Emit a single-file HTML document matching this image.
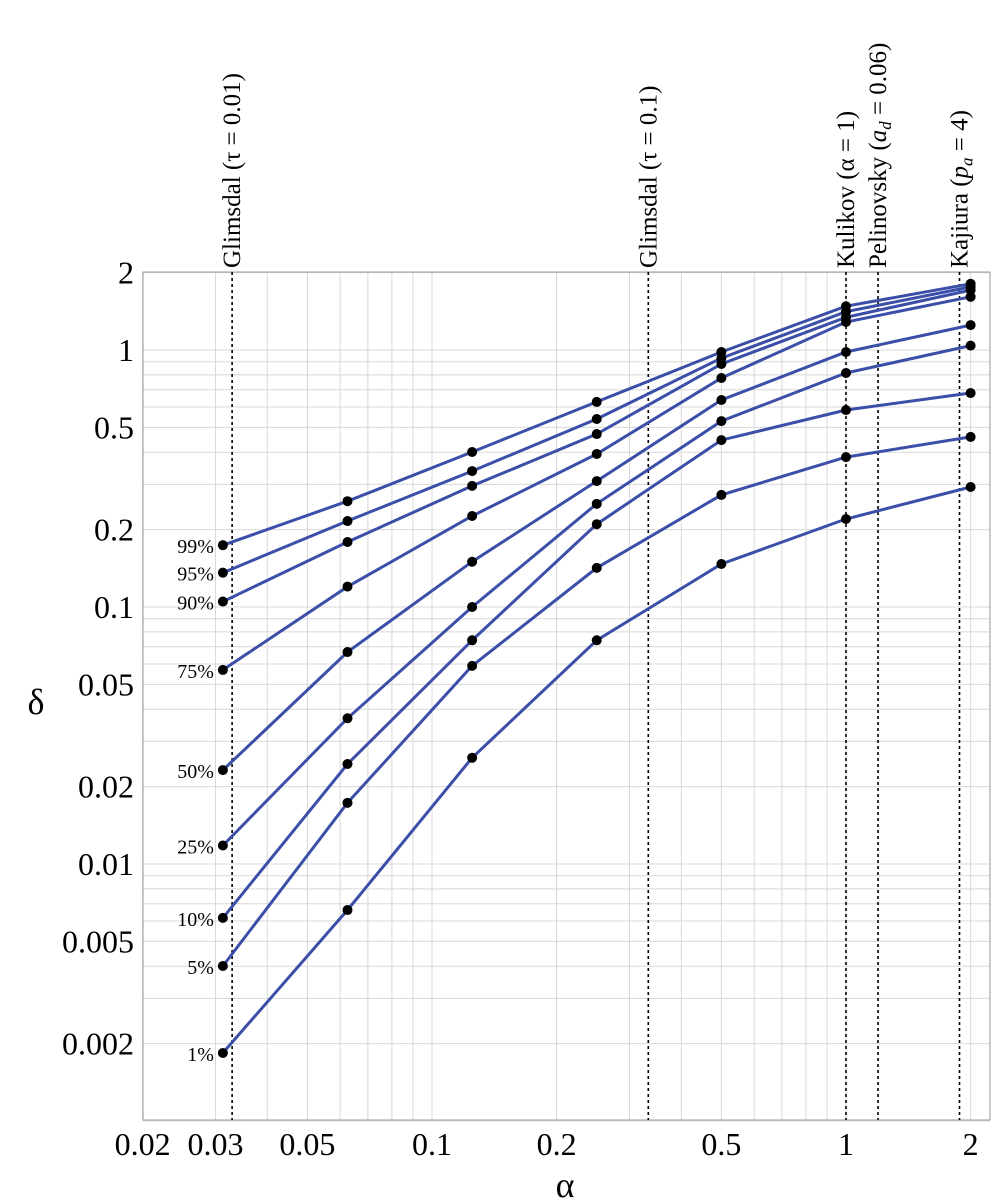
<!DOCTYPE html>
<html><head><meta charset="utf-8">
<style>
html,body{margin:0;padding:0;background:#fff;}
svg{display:block;font-family:"Liberation Serif",serif;}
</style></head>
<body>
<svg id="chart" width="991" height="1203" viewBox="0 0 991 1203">
<g id="grid"></g>
<rect x="143" y="272" width="847" height="848" fill="none" stroke="#999" stroke-width="1"/>
<g id="refs"></g>
<g id="series"></g>
<g id="ticks"></g>
<text x="565" y="1197" font-size="36" text-anchor="middle">α</text>
<text x="36" y="714" font-size="36" text-anchor="middle">δ</text>
</svg>
<script>
const alphas=[1/32,1/16,1/8,1/4,1/2,1,2];
const seriesNames=["99%","95%","90%","75%","50%","25%","10%","5%","1%"];
const s99=[0.174,0.258,0.401,0.628,0.982,1.48,1.81];
const s95=[0.136,0.216,0.338,0.539,0.93,1.41,1.76];
const s90=[0.105,0.179,0.296,0.471,0.882,1.34,1.71];
const s75=[0.0569,0.120,0.226,0.394,0.778,1.285,1.61];
const s50=[0.0232,0.0668,0.150,0.309,0.639,0.982,1.25];
const s25=[0.0118,0.0369,0.100,0.252,0.529,0.814,1.04];
const s10=[0.00617,0.0245,0.0742,0.21,0.446,0.584,0.68];
const s5=[0.00401,0.0173,0.059,0.142,0.273,0.383,0.459];
const s1=[0.00184,0.00662,0.0259,0.0742,0.147,0.220,0.293];
const seriesValues=[s99,s95,s90,s75,s50,s25,s10,s5,s1];
const xTicks=[0.02,0.03,0.05,0.1,0.2,0.5,1,2];
const xTickLabels=["0.02","0.03","0.05","0.1","0.2","0.5","1","2"];
const yTicks=[2,1,0.5,0.2,0.1,0.05,0.02,0.01,0.005,0.002];
const yTickLabels=["2","1","0.5","0.2","0.1","0.05","0.02","0.01","0.005","0.002"];
const refAlphas=[0.0329,0.333,1,1.195,1.88];
const refLabels=['Glimsdal (τ = 0.01)','Glimsdal (τ = 0.1)','Kulikov (α = 1)','Pelinovsky (<tspan font-style="italic">a</tspan><tspan font-style="italic" font-size="17" dy="5">d</tspan><tspan dy="-5"> = 0.06)</tspan>','Kajiura (<tspan font-style="italic">p</tspan><tspan font-style="italic" font-size="17" dy="5">a</tspan><tspan dy="-5"> = 4)</tspan>'];

const NS="http://www.w3.org/2000/svg";
const X=a=>432+414*Math.log10(a/0.1);
const Y=v=>350-257*Math.log10(v);
function mk(tag,attrs,parent){const e=document.createElementNS(NS,tag);for(const k in attrs)e.setAttribute(k,attrs[k]);parent.appendChild(e);return e;}
const grid=document.getElementById('grid');
for(let d=-2;d<=0;d++)for(let m=1;m<=9;m++){const a=m*Math.pow(10,d);if(a<0.02||a>2.2)continue;
 const l=mk('line',{x1:X(a),x2:X(a),y1:272,y2:1120,stroke:'#d8d8d8','stroke-width':1},grid);
 }
for(let d=-3;d<=0;d++)for(let m=1;m<=9;m++){const v=m*Math.pow(10,d);if(v<0.001||v>2)continue;
 const l=mk('line',{x1:143,x2:990,y1:Y(v),y2:Y(v),stroke:'#d8d8d8','stroke-width':1},grid);
 }
const ticks=document.getElementById('ticks');
xTicks.forEach((a,i)=>{const t=mk('text',{x:X(a),y:1155,'font-size':32,'text-anchor':'middle'},ticks);t.textContent=xTickLabels[i];
 });
yTicks.forEach((v,i)=>{const t=mk('text',{x:134,y:Y(v)+11,'font-size':32,'text-anchor':'end'},ticks);t.textContent=yTickLabels[i];
 });
const refs=document.getElementById('refs');
refAlphas.forEach((a,i)=>{const x=X(a);
 const l=mk('line',{x1:x,x2:x,y1:272,y2:1120,stroke:'#000','stroke-width':1.6,'stroke-dasharray':'3,3'},refs);
 
 const t=mk('text',{transform:`translate(${x+8},268) rotate(-90)`,'font-size':25},refs);t.innerHTML=refLabels[i];
 });
const sg=document.getElementById('series');
seriesValues.forEach((vals,si)=>{
 const pts=vals.map((v,i)=>X(alphas[i]).toFixed(1)+','+Y(v).toFixed(1)).join(' ');
 const pl=mk('polyline',{points:pts,fill:'none',stroke:'#3b4fa8','stroke-width':3},sg);
 });
seriesValues.forEach((vals,si)=>{
 vals.forEach((v,i)=>{const c=mk('circle',{cx:X(alphas[i]),cy:Y(v),r:5,fill:'#000'},sg);
  });
 const t=mk('text',{x:X(alphas[0])-9,y:Y(vals[0])+8,'font-size':20,'text-anchor':'end'},sg);t.textContent=seriesNames[si];
 });
</script>
</body></html>
